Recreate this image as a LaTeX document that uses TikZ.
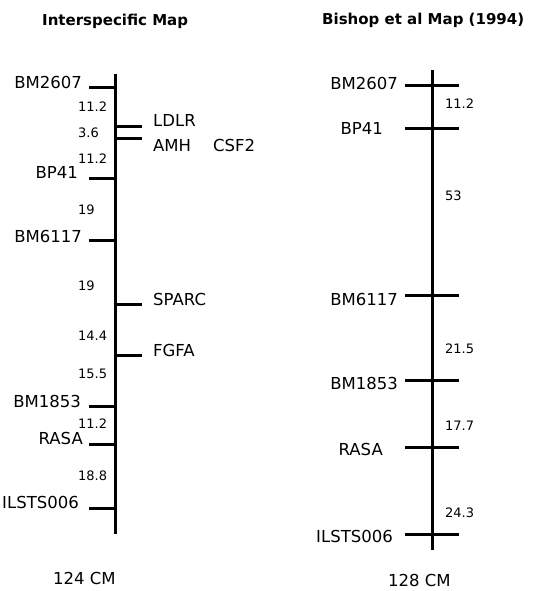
\documentclass[tikz,border=0pt]{standalone}
\usepackage{fontspec}
\setmainfont{DejaVu Sans}
\usepackage{tikz}
\newcommand{\locfont}{\fontsize{16.5}{19}\selectfont}
\newcommand{\distfont}{\fontsize{13}{15}\selectfont}
\newcommand{\headfont}{\fontsize{15}{18}\selectfont\bfseries}

\begin{document}
\begin{tikzpicture}[
  x=1pt, y=-1pt,
  chrom/.style={line width=3pt},
  tick/.style={line width=3pt},
  lociL/.style={font=\locfont, inner sep=0pt, anchor=base east},
  lociR/.style={font=\locfont, inner sep=0pt, anchor=base west},
  dist/.style={font=\distfont, inner sep=0pt, anchor=base west},
  head/.style={font=\headfont, inner sep=0pt, anchor=base west},
  total/.style={font=\locfont, inner sep=0pt, anchor=base west}
]
  \useasboundingbox (0,0) rectangle (536,591);

  % Titles
  \node[head] (htitle) at (42,26)  {Interspecific Map};
  \node[head] (btitle) at (322,25) {Bishop et al Map (1994)};

  % Interspecific map: chromosome
  \coordinate (itop) at (115,74);
  \coordinate (ibot) at (115,534);
  \draw[chrom] (itop) -- (ibot);

  % Interspecific map: loci on the left
  \coordinate (iBM2607)   at (115,88);
  \coordinate (iBP41)     at (115,178);
  \coordinate (iBM6117)   at (115,240);
  \coordinate (iBM1853)   at (115,406);
  \coordinate (iRASA)     at (115,444);
  \coordinate (iILSTS006) at (115,508);
  \draw[tick] (iBM2607)   -- ++(-26,0);
  \draw[tick] (iBP41)     -- ++(-26,0);
  \draw[tick] (iBM6117)   -- ++(-26,0);
  \draw[tick] (iBM1853)   -- ++(-26,0);
  \draw[tick] (iRASA)     -- ++(-26,0);
  \draw[tick] (iILSTS006) -- ++(-26,0);
  \node[lociL] (lBM2607)   at (82,89)  {BM2607};
  \node[lociL] (lBP41)     at (78,178) {BP41};
  \node[lociL] (lBM6117)   at (82,242) {BM6117};
  \node[lociL] (lBM1853)   at (81,407) {BM1853};
  \node[lociL] (lRASA)     at (83,444) {RASA};
  \node[lociL] (lILSTS006) at (79,508) {ILSTS006};

  % Interspecific map: genes on the right
  \coordinate (iLDLR)  at (115,126);
  \coordinate (iAMH)   at (115,138);
  \coordinate (iSPARC) at (115,304);
  \coordinate (iFGFA)  at (115,355);
  \draw[tick] (iLDLR)  -- ++(27,0);
  \draw[tick] (iAMH)   -- ++(27,0);
  \draw[tick] (iSPARC) -- ++(27,0);
  \draw[tick] (iFGFA)  -- ++(27,0);
  \node[lociR] (lLDLR)  at (153,127) {LDLR};
  \node[lociR] (lAMH)   at (153,151) {AMH\hspace{22pt}CSF2};
  \node[lociR] (lSPARC) at (153,305) {SPARC};
  \node[lociR] (lFGFA)  at (153,356) {FGFA};

  % Interspecific map: distances
  \node[dist] (d1) at (78,112) {11.2};
  \node[dist] (d2) at (78,137) {3.6};
  \node[dist] (d3) at (78,163) {11.2};
  \node[dist] (d4) at (78,214) {19};
  \node[dist] (d5) at (78,290) {19};
  \node[dist] (d6) at (78,340) {14.4};
  \node[dist] (d7) at (78,378) {15.5};
  \node[dist] (d8) at (78,428) {11.2};
  \node[dist] (d9) at (78,480) {18.8};
  \node[total] (itotal) at (53,584) {124 CM};

  % Bishop et al map: chromosome
  \coordinate (btop) at (432,70);
  \coordinate (bbot) at (432,550);
  \draw[chrom] (btop) -- (bbot);

  % Bishop et al map: loci
  \coordinate (bBM2607)   at (432,86);
  \coordinate (bBP41)     at (432,128);
  \coordinate (bBM6117)   at (432,295);
  \coordinate (bBM1853)   at (432,380);
  \coordinate (bRASA)     at (432,447);
  \coordinate (bILSTS006) at (432,534);
  \draw[tick] ([xshift=-27pt]bBM2607)   -- ([xshift=27pt]bBM2607);
  \draw[tick] ([xshift=-27pt]bBP41)     -- ([xshift=27pt]bBP41);
  \draw[tick] ([xshift=-27pt]bBM6117)   -- ([xshift=27pt]bBM6117);
  \draw[tick] ([xshift=-27pt]bBM1853)   -- ([xshift=27pt]bBM1853);
  \draw[tick] ([xshift=-27pt]bRASA)     -- ([xshift=27pt]bRASA);
  \draw[tick] ([xshift=-27pt]bILSTS006) -- ([xshift=27pt]bILSTS006);
  \node[lociL] (rBM2607)   at (398,90)  {BM2607};
  \node[lociL] (rBP41)     at (383,135) {BP41};
  \node[lociL] (rBM6117)   at (398,305) {BM6117};
  \node[lociL] (rBM1853)   at (398,389) {BM1853};
  \node[lociL] (rRASA)     at (383,455) {RASA};
  \node[lociL] (rILSTS006) at (393,542) {ILSTS006};

  % Bishop et al map: distances
  \node[dist] (e1) at (445,109) {11.2};
  \node[dist] (e2) at (445,200) {53};
  \node[dist] (e3) at (445,353) {21.5};
  \node[dist] (e4) at (445,430) {17.7};
  \node[dist] (e5) at (445,517) {24.3};
  \node[total] (btotal) at (388,586) {128 CM};
\end{tikzpicture}
\end{document}
